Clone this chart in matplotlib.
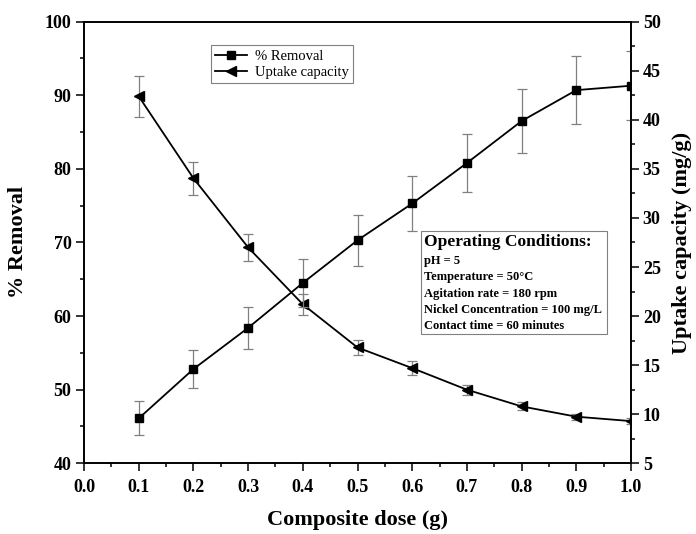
import numpy as np
import matplotlib
matplotlib.use('Agg')
import matplotlib.pyplot as plt
from matplotlib.patches import Rectangle
from matplotlib.lines import Line2D

plt.rcParams['font.family'] = ['Liberation Serif', 'DejaVu Serif']
plt.rcParams['font.weight'] = 'bold'

# data
dose = [0.1, 0.2, 0.3, 0.4, 0.5, 0.6, 0.7, 0.8, 0.9, 1.0]
removal = [46.1, 52.8, 58.4, 64.5, 70.3, 75.3, 80.8, 86.5, 90.7, 91.3]
removal_err = [2.3, 2.6, 2.9, 3.2, 3.5, 3.8, 4.0, 4.3, 4.6, 4.7]
uptake = [42.4, 34.05, 27.0, 21.2, 16.8, 14.7, 12.5, 10.8, 9.75, 9.3]
uptake_err = [2.1, 1.7, 1.35, 1.1, 0.75, 0.7, 0.5, 0.4, 0.3, 0.3]

conditions_title = "Operating Conditions:"
conditions = ["pH = 5",
              "Temperature = 50\u00b0C",
              "Agitation rate = 180 rpm",
              "Nickel Concentration = 100 mg/L",
              "Contact time = 60 minutes"]

fig = plt.figure(figsize=(6.96, 5.34), dpi=100)
ax = fig.add_axes([0.1207, 0.1324, 0.9066 - 0.1207, 0.9594 - 0.1324])
ax2 = ax.twinx()

ax.errorbar(dose, removal, yerr=removal_err, color='black', marker='s',
            markersize=5.5, linewidth=1.3, ecolor='#808080', elinewidth=0.9,
            capsize=3.5, capthick=0.9)
ax2.errorbar(dose, uptake, yerr=uptake_err, color='black', marker='<',
             markersize=6.5, linewidth=1.3, ecolor='#808080', elinewidth=0.9,
             capsize=3.5, capthick=0.9)

ax.set_xlim(0, 1.0)
ax.set_ylim(40, 100)
ax2.set_ylim(5, 50)
ax.set_xticks(np.arange(0, 1.01, 0.1))
ax.set_xticks(np.arange(0.05, 1.0, 0.1), minor=True)
ax.set_yticks(np.arange(40, 101, 10))
ax.set_yticks(np.arange(45, 100, 10), minor=True)
ax2.set_yticks(np.arange(5, 51, 5))
ax2.set_yticks(np.arange(7.5, 50, 5), minor=True)
ax.set_xticklabels([f"{v:.1f}" for v in np.arange(0, 1.01, 0.1)])

for a in (ax, ax2):
    for s in a.spines.values():
        s.set_linewidth(1.2)
    a.tick_params(which='major', direction='out', length=5.5, width=1.1, labelsize=13)
    a.tick_params(which='minor', direction='out', length=3, width=1.1)
ax.tick_params(axis='x', pad=6)
ax2.tick_params(axis='y', pad=3)

ax.set_xlabel("Composite dose (g)", fontsize=16, fontweight='bold', labelpad=10)
ax.set_ylabel("% Removal", fontsize=16, fontweight='bold', labelpad=12)
ax2.set_ylabel("Uptake capacity (mg/g)", fontsize=16, fontweight='bold', labelpad=8)

h1 = Line2D([], [], color='black', marker='s', markersize=5.5, linewidth=1.3)
h2 = Line2D([], [], color='black', marker='<', markersize=6.5, linewidth=1.3)
leg = ax.legend([h1, h2], ['% Removal', 'Uptake capacity'], loc='upper left',
                bbox_to_anchor=(0.232, 0.947), borderaxespad=0, fancybox=False,
                edgecolor='#808080', framealpha=1, prop={'size': 10.5, 'weight': 'normal'},
                handlelength=2.2, borderpad=0.3, labelspacing=0.2, handletextpad=0.5)
leg.get_frame().set_linewidth(0.8)
ax.set_zorder(ax2.get_zorder() + 1)
ax.patch.set_visible(False)

ax.add_patch(Rectangle((0.617, 0.292), 0.957 - 0.617, 0.527 - 0.292,
                       transform=ax.transAxes, fill=False, edgecolor='#808080',
                       linewidth=0.8))
ax.text(0.622, 0.500, conditions_title, transform=ax.transAxes, fontsize=12.5,
        fontweight='bold', va='center', ha='left')
ys = [0.459, 0.421, 0.383, 0.347, 0.312]
for t, y in zip(conditions, ys):
    ax.text(0.622, y, t, transform=ax.transAxes, fontsize=9, fontweight='bold',
            va='center', ha='left')

fig.savefig('out.png', dpi=100)
